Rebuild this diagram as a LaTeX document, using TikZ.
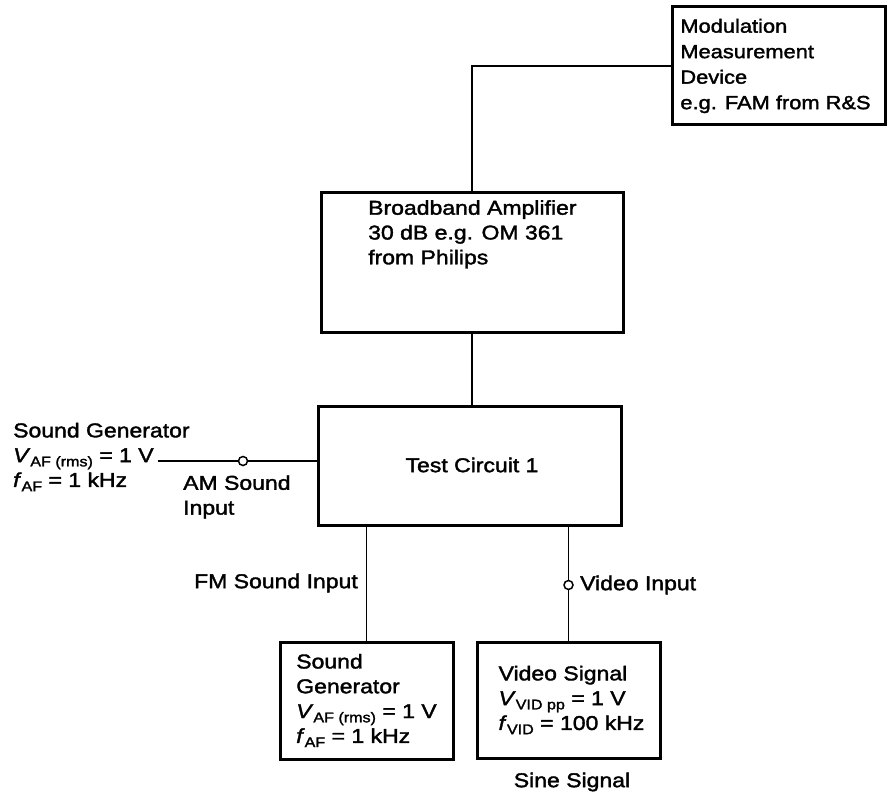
\documentclass[tikz,border=0pt]{standalone}
\usepackage{fontspec}
\setmainfont{Liberation Sans}[FakeStretch=1.15,FakeBold=1.8]
\newcommand\mysub[1]{\raisebox{-0.4ex}{\fontsize{14}{14}\selectfont #1}}
\begin{document}
\begin{tikzpicture}[x=1pt,y=-1pt,
  every node/.style={font=\fontsize{20}{24.8}\selectfont, align=left},
  box/.style={draw, line width=3pt, inner sep=0pt},
  conn/.style={line width=1.9pt},
  thinconn/.style={line width=1.2pt},
  jack/.style={circle, draw, line width=1.5pt, fill=white, inner sep=0pt, minimum size=9pt},
  lbl/.style={inner sep=0pt}]
\useasboundingbox (0,0) rectangle (889,794);

% boxes
\node[box, minimum width=213, minimum height=118, font=\fontsize{19}{25.5}\selectfont] (mod) at (778.5,66)
  {Modulation\\Measurement\\Device\\e.g. FAM from R\&S\hspace*{6pt}};
\node[box, minimum width=302, minimum height=140] (amp) at (472,263) {};
\node[lbl, anchor=north west] (ampt) at (368,200)
  {Broadband Amplifier\\30 dB e.g. OM 361\\from Philips};
\node[box, minimum width=303, minimum height=119] (tc) at (469.5,465.5) {};
\node[lbl] (tct) at (472,465) {Test Circuit 1};
\node[box, minimum width=173, minimum height=117] (sg) at (366.5,700.5)
  {Sound\\Generator\\\textit{V}\mysub{AF (rms)} = 1 V\hspace*{-10pt}\\\textit{f}\mysub{AF} = 1 kHz};
\node[box, minimum width=183, minimum height=116] (vs) at (568.5,700)
  {Video Signal\\\textit{V}\mysub{VID pp} = 1 V\\\textit{f}\mysub{VID} = 100 kHz\hspace*{-6pt}};

% free labels
\node[lbl, anchor=west] (lsg) at (13,457)
  {Sound Generator\\\textit{V}\mysub{AF (rms)} = 1 V\\\textit{f}\mysub{AF} = 1 kHz};
\coordinate (amin) at (158,461);
\node[lbl, anchor=west] (aml) at (183,497) {AM Sound\\Input};
\node[lbl, anchor=east] (fml) at (358,583) {FM Sound Input};
\node[lbl, anchor=west] (vil) at (580,585) {Video Input};
\node[lbl] (sine) at (572,782) {Sine Signal};

% jacks
\node[jack] (amc) at (243,461) {};
\node[jack] (vc) at (568.5,585) {};

% connectors
\draw[thinconn] (mod.west) -| (amp.north);
\draw[conn] (amp.south) -- (amp.south |- tc.north);
\draw[conn] (amin) -- (amc.west);
\draw[conn] (amc.east) -- (amc -| tc.west);
\draw[conn] (sg.north) -- (sg.north |- tc.south);
\draw[conn] (vs.north) -- (vc.south);
\draw[conn] (vc.north) -- (vc |- tc.south);
\end{tikzpicture}
\end{document}
